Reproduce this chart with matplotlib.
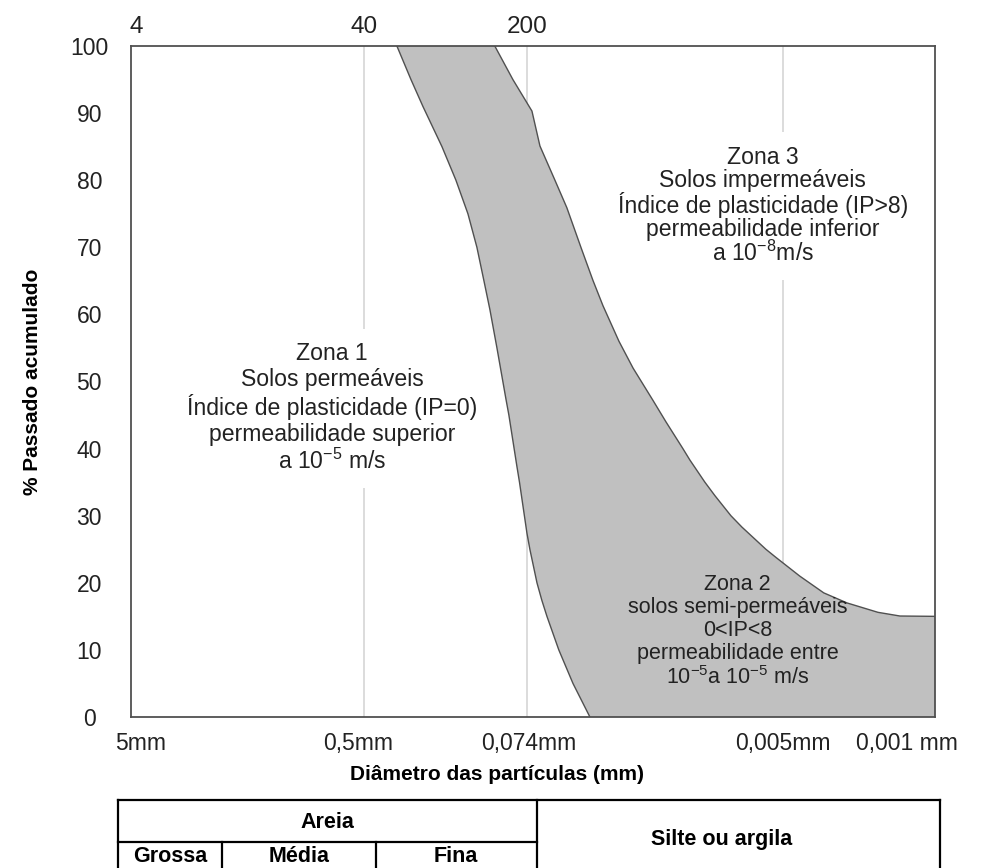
import matplotlib
matplotlib.use('Agg')
import matplotlib.pyplot as plt

plt.rcParams['font.family'] = ['Liberation Sans', 'DejaVu Sans']
plt.rcParams['mathtext.fontset'] = 'custom'
plt.rcParams['mathtext.rm'] = 'Liberation Sans'
plt.rcParams['mathtext.it'] = 'Liberation Sans'

# ---- data (diameter in mm, % passing) ----
left_d = [0.299, 0.2576, 0.227, 0.1855, 0.16, 0.1409, 0.1281, 0.1189, 0.1116, 0.1036,
          0.0942, 0.0913, 0.0839, 0.0816, 0.0754, 0.0731, 0.0678, 0.0644, 0.061,
          0.0538, 0.0463, 0.0387]
left_p = [100, 95, 91, 85, 80, 75, 70, 65, 60.7, 55,
          47.4, 45, 37.4, 35, 27.4, 25, 20, 17.4, 15,
          10, 5, 0]
right_d = [0.106, 0.0875, 0.0715, 0.0657, 0.05605, 0.0494, 0.04256, 0.0375, 0.0337,
           0.02845, 0.0245, 0.01985, 0.0173, 0.01445, 0.01342, 0.01145, 0.0103, 0.00869,
           0.00773, 0.006, 0.0054, 0.00419, 0.00325, 0.00254, 0.00183, 0.00145, 0.001]
right_p = [100, 95, 90.3, 85.1, 80, 75.9, 70, 65.1, 61.3,
           56, 52, 47.2, 44, 40, 38.3, 35, 33, 30,
           28.3, 25, 23.8, 21, 18.5, 17, 15.6, 15.05, 15.0]

grid_d = [0.425, 0.075, 0.005]
top_tick_d = [4.75, 0.425, 0.075]
top_tick_labels = ['4', '40', '200']
bottom_tick_d = [4.5, 0.45, 0.074, 0.005, 0.00135]
bottom_tick_labels = ['5mm', '0,5mm', '0,074mm', '0,005mm', '0,001 mm']
y_ticks = list(range(0, 101, 10))

zone1_text = ("Zona 1\nSolos permeáveis\nÍndice de plasticidade (IP=0)\n"
              "permeabilidade superior\na 10$^{-5}$ m/s")
zone3_text = ("Zona 3\nSolos impermeáveis\nÍndice de plasticidade (IP>8)\n"
              "permeabilidade inferior\na 10$^{-8}$m/s")
zone2_text = ("Zona 2\nsolos semi-permeáveis\n0<IP<8\n"
              "permeabilidade entre\n10$^{-5}$a 10$^{-5}$ m/s")
zone_pos = {'z1': (0.595, 46.0), 'z3': (0.0062, 76.2), 'z2': (0.0081, 12.7)}

table_top = ['Areia', 'Silte ou argila']
table_sub = ['Grossa', 'Média', 'Fina']

W, H = 982, 868
fig = plt.figure(figsize=(W / 100, H / 100), dpi=100)
ax = fig.add_axes([131 / W, 1 - 717 / H, (935 - 131) / W, (717 - 46) / H])

ax.set_xscale('log')
ax.set_xlim(5, 0.001)
ax.set_ylim(0, 100)

for d in grid_d:
    ax.axvline(d, color='#d6d6d6', lw=1.2, zorder=1)

poly_x = left_d + [0.001] + right_d[::-1]
poly_y = left_p + [0] + right_p[::-1]
ax.fill(poly_x, poly_y, color='#c0c0c0', lw=0, zorder=2)
ax.plot(left_d, left_p, color='#505050', lw=1.0, zorder=3)
ax.plot(right_d, right_p, color='#505050', lw=1.0, zorder=3)

ax.set_yticks(y_ticks)
ax.set_yticklabels([str(v) for v in y_ticks])
ax.tick_params(axis='y', length=0, pad=30, labelsize=16.5, labelcolor='#222222')
for lab in ax.get_yticklabels():
    lab.set_horizontalalignment('center')

ax.xaxis.set_minor_locator(matplotlib.ticker.NullLocator())
ax.set_xticks(bottom_tick_d)
ax.set_xticklabels(bottom_tick_labels)
ax.tick_params(axis='x', length=0, pad=11, labelsize=16.5, labelcolor='#222222')

sec = ax.secondary_xaxis('top')
sec.xaxis.set_minor_locator(matplotlib.ticker.NullLocator())
sec.set_xticks(top_tick_d)
sec.set_xticklabels(top_tick_labels)
sec.tick_params(axis='x', length=0, pad=6, labelsize=17.5, labelcolor='#222222')
sec.spines['top'].set_visible(False)

for s in ax.spines.values():
    s.set_color('#505050')
    s.set_linewidth(1.3)

ax.set_xlabel('Diâmetro das partículas (mm)', fontsize=15, fontweight='bold')
ax.xaxis.set_label_coords(0.455, -0.0864)
ax.xaxis.label.set_va('center')
ax.set_ylabel('% Passado acumulado', fontsize=15, fontweight='bold')
ax.yaxis.set_label_coords(-0.1220, 0.5)
ax.yaxis.label.set_va('center')

kw = dict(ha='center', va='center', color='#222222', zorder=5)
ax.text(*zone_pos['z1'], zone1_text, fontsize=16.6, linespacing=1.15,
        bbox=dict(facecolor='white', edgecolor='none', pad=10), **kw)
ax.text(*zone_pos['z3'], zone3_text, fontsize=16.6, linespacing=1.0,
        bbox=dict(facecolor='white', edgecolor='none', pad=10), **kw)
ax.text(*zone_pos['z2'], zone2_text, fontsize=15.5, linespacing=1.12, **kw)

# ---- classification table below ----
tab = fig.add_axes([0, 0, 1, 1], facecolor='none')
tab.set_xlim(0, W)
tab.set_ylim(H, 0)
tab.axis('off')
lk = dict(color='black', lw=1.6, solid_capstyle='projecting')
tab.plot([118, 940], [800, 800], **lk)
tab.plot([118, 537], [842, 842], **lk)
for x in (118, 537, 940):
    tab.plot([x, x], [800, 880], **lk)
for x in (222, 376):
    tab.plot([x, x], [842, 880], **lk)
tk = dict(ha='center', va='center', fontsize=15.5, fontweight='bold', color='black')
tab.text(327, 822, table_top[0], **tk)
tab.text(722, 840, table_top[1], **tk)
for x, t in zip((170, 299, 456), table_sub):
    tab.text(x, 857, t, **tk)

fig.savefig('out.png', dpi=100)
